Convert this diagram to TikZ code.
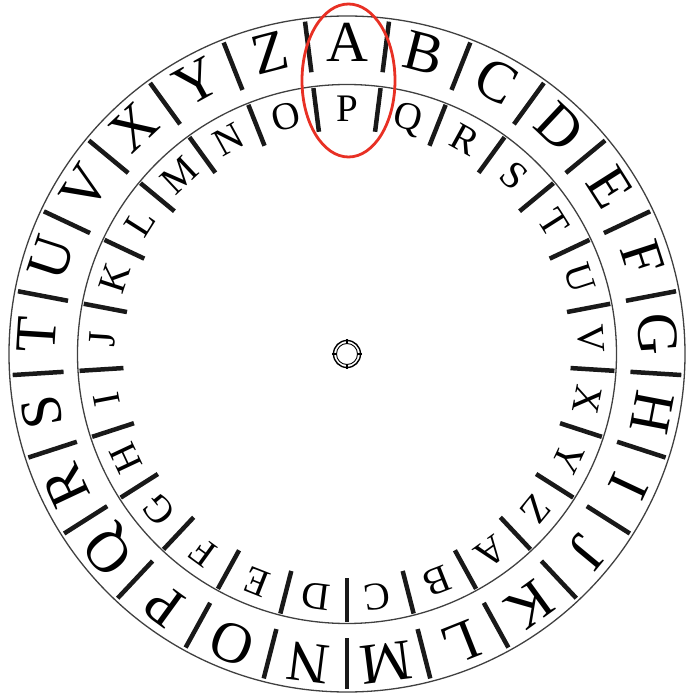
\documentclass[tikz,border=0pt]{standalone}
\usepackage{fontspec}
\usetikzlibrary{shapes.geometric}
\setmainfont{Liberation Serif}
\definecolor{markred}{RGB}{232,48,36}
\begin{document}
\begin{tikzpicture}[x=1pt,y=1pt,
  ring/.style={line width=1.3pt, black!75},
  tickbar/.style={line width=4.5pt, black!90},
  outerletter/.style={inner sep=0pt, text height=38pt, text depth=0pt, font=\fontsize{58}{58}\selectfont},
  innerletter/.style={inner sep=0pt, text height=26pt, text depth=0pt, font=\fontsize{39}{39}\selectfont},
  marker/.style={draw=markred, line width=2.8pt}]
\useasboundingbox (-347,-345) rectangle (340,354);
\draw[ring] (0,0) circle (338);
\draw[ring] (0,0) circle (269.5);
% outer letters
\foreach \L [count=\i from 0] in {A,B,C,D,E,F,G,H,I,J,K,L,M,N,O,P,Q,R,S,T,U,V,X,Y,Z} {
  \pgfmathsetmacro\ang{90-\i*14.4}
  \node[outerletter, rotate=\ang-90] (o\i) at (\ang:311) {\L};
}
% inner letters
\foreach \L [count=\i from 0] in {P,Q,R,S,T,U,V,X,Y,Z,A,B,C,D,E,F,G,H,I,J,K,L,M,N,O} {
  \pgfmathsetmacro\ang{90-\i*14.4}
  \node[innerletter, rotate=\ang-90] (n\i) at (\ang:245) {\L};
}
% ticks
\foreach \i in {0,...,24} {
  \pgfmathsetmacro\ang{90-(\i+0.5)*14.4}
  \draw[tickbar] (\ang:335) -- (\ang:284);
  \draw[tickbar] (\ang:268) -- (\ang:224);
}
% hub
\node[draw, circle, line width=1.4pt, minimum size=27pt, inner sep=0pt] (hub) at (0,0) {};
\draw[line width=0.9pt] (hub.center) circle (10.5);
\foreach \a in {0,90,180,270} {
  \draw[line width=1.6pt] (hub.center) ++(\a:10) -- ++(\a:5);
}
% marker ellipse
\node[marker, ellipse, minimum width=93pt, minimum height=153pt, inner sep=0pt] (mark) at (1.5,273.5) {};
\end{tikzpicture}
\end{document}
